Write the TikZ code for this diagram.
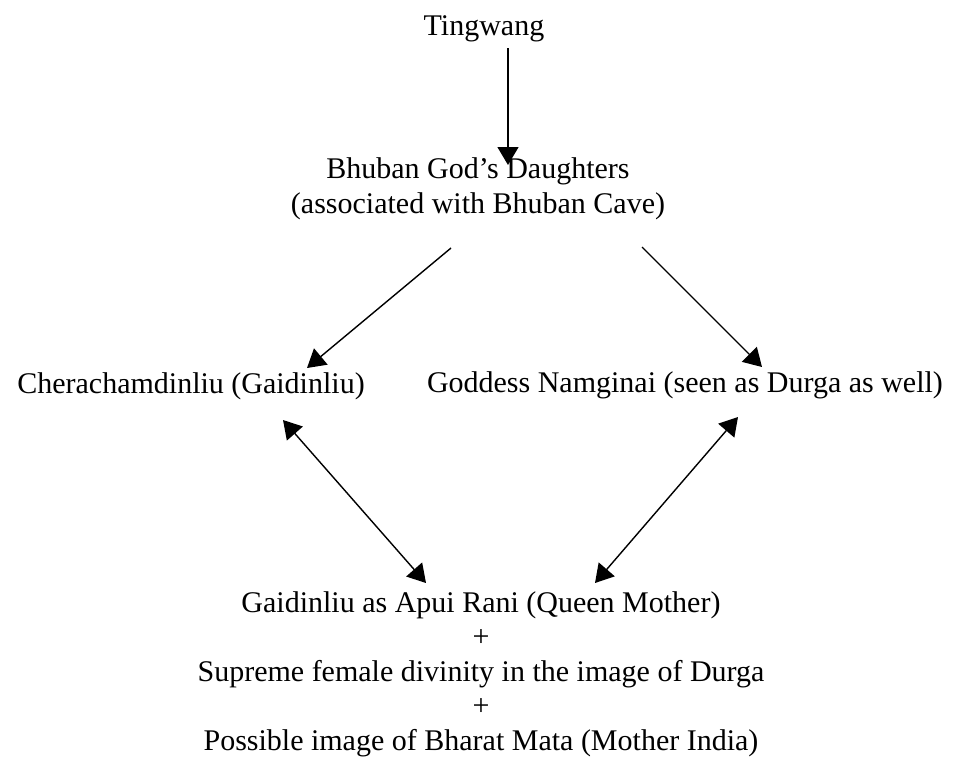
\documentclass[tikz,border=0pt]{standalone}
\usepackage{fontspec}
\setmainfont{Liberation Serif}
\usetikzlibrary{arrows.meta}
\tikzset{
    txt/.style={anchor=base, inner sep=0pt, align=center, font=\fontsize{30}{34.5}\selectfont},
    flow/.style={line width=1.4pt, -{Triangle[length=18pt,width=21pt]}},
    twoway/.style={line width=1.4pt, {Triangle[length=18pt,width=21pt]}-{Triangle[length=18pt,width=21pt]}}
}

\begin{document}
\begin{tikzpicture}[x=1pt,y=-1pt]
        \useasboundingbox (0,0) rectangle (955,764);
        \node[txt] (ting) at (484,35) {Tingwang};
        \node[txt] (daughters) at (478,213) {Bhuban God’s Daughters\\(associated with Bhuban Cave)};
        \node[txt] (chera) at (191,393) {Cherachamdinliu (Gaidinliu)};
        \node[txt] (namginai) at (685,392) {Goddess Namginai (seen as Durga as well)};
        \node[txt] (apui) at (481,750) {Gaidinliu as Apui Rani (Queen Mother)\\+\\Supreme female divinity in the image of Durga\\+\\Possible image of Bharat Mata (Mother India)};
        % arrow ends
        \coordinate (ting-out) at (508,48);
        \coordinate (daughters-in) at (508,165);
        \coordinate (daughters-l) at (451,248);
        \coordinate (daughters-r) at (642,247);
        \coordinate (chera-in) at (307,368);
        \coordinate (namginai-in) at (762,367);
        \coordinate (chera-out) at (283,420);
        \coordinate (namginai-out) at (738,417);
        \coordinate (apui-l) at (426,583);
        \coordinate (apui-r) at (595,583);
        \draw[flow] (ting-out) -- (daughters-in);
        \draw[flow] (daughters-l) -- (chera-in);
        \draw[flow] (daughters-r) -- (namginai-in);
        \draw[twoway] (chera-out) -- (apui-l);
        \draw[twoway] (namginai-out) -- (apui-r);
    \end{tikzpicture}
\end{document}
